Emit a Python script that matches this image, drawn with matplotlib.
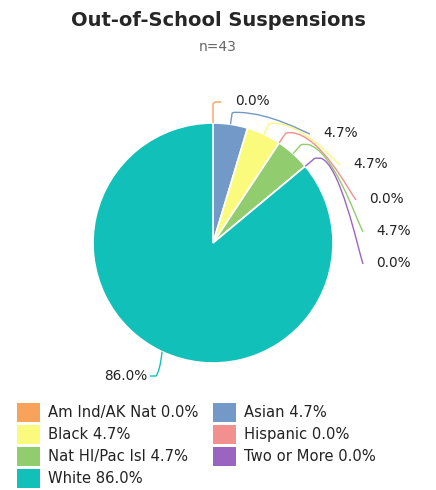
import numpy as np
import matplotlib
matplotlib.use("Agg")
import matplotlib.pyplot as plt
from matplotlib.path import Path
from matplotlib.patches import PathPatch, Rectangle

# ---- data ----
categories = ["Am Ind/AK Nat", "Asian", "Black", "Hispanic", "Nat HI/Pac Isl", "Two or More", "White"]
counts = [0, 2, 2, 0, 2, 0, 37]
pct_labels = ["0.0%", "4.7%", "4.7%", "0.0%", "4.7%", "0.0%", "86.0%"]
colors = ["#f7a35c", "#7399c8", "#fafa7c", "#f28f8f", "#91cc6f", "#9b64c0", "#12c0ba"]
title = "Out-of-School Suspensions"
subtitle = "n=43"

W, H = 436, 490
fig = plt.figure(figsize=(W / 100, H / 100), dpi=100)
ax = fig.add_axes([0, 0, 1, 1])
ax.axis("off")

def P(x, y):
    return (x, H - y)

cxp, cyp = 213, 243
cx, cy = P(cxp, cyp)
R = 120
wedges, _ = ax.pie(counts, colors=colors, startangle=90, counterclock=False,
                   radius=R, center=(cx, cy),
                   wedgeprops=dict(edgecolor="white", linewidth=1.2))
ax.set_xlim(0, W)
ax.set_ylim(0, H)
ax.set_aspect("auto")

fig.text(0.5, 1 - 20 / H, title, ha="center", va="center", fontsize=14,
         fontweight="bold", color="#262626")
fig.text(0.5, 1 - 47 / H, subtitle, ha="center", va="center", fontsize=10,
         color="#666666")

# label layout (pixel positions of text)
label_pos = [(235, 101), (323, 133), (353, 164), (369, 199), (376, 231), (376, 263), (147, 376)]
elbow_r = [140, 131, 131, 131, 131, 131, 124]
LFS = 9.8

def curve_path(pts_codes):
    verts = [P(x, y) for (x, y), _ in pts_codes]
    codes = [c for _, c in pts_codes]
    return Path(verts, codes)

for i, w in enumerate(wedges):
    ang = np.deg2rad((w.theta1 + w.theta2) / 2)
    ex, ey = cxp + R * np.cos(ang), cyp - R * np.sin(ang)
    bx, by = cxp + elbow_r[i] * np.cos(ang), cyp - elbow_r[i] * np.sin(ang)
    tx, ty = label_pos[i]
    if i == 6:
        endx, endy = tx + 3, ty
        pc = [((ex, ey), Path.MOVETO), ((endx + 10, endy - 5), Path.CURVE3),
              ((endx + 6, endy), Path.CURVE3), ((endx, endy), Path.LINETO)]
        ax.text(*P(tx, ty), pct_labels[i], ha="right", va="center", fontsize=LFS, color="#222222")
    elif i == 0:
        endx, endy = tx - 14, ty + 1
        pc = [((ex, ey), Path.MOVETO), ((ex, endy + 3), Path.LINETO),
              ((ex, endy), Path.CURVE3), ((ex + 3, endy), Path.CURVE3),
              ((endx, endy), Path.LINETO)]
        ax.text(*P(tx, ty), pct_labels[i], ha="left", va="center", fontsize=LFS, color="#222222")
    else:
        endx, endy = tx - 13, ty + 1
        cxx, cyy = bx + 7, by - 1
        dx, dy = endx - cxx, endy - cyy
        pc = [((ex, ey), Path.MOVETO), ((bx, by), Path.LINETO),
              ((bx + 1, by - 1.5), Path.CURVE3), ((cxx - 3, cyy), Path.CURVE3),
              ((cxx, cyy), Path.LINETO),
              ((cxx + 0.45 * dx, cyy + 0.05 * dy), Path.CURVE4),
              ((endx - 0.12 * dx, endy - 0.15 * dy), Path.CURVE4),
              ((endx, endy), Path.CURVE4)]
        ax.text(*P(tx, ty), pct_labels[i], ha="left", va="center", fontsize=LFS, color="#222222")
    ax.add_patch(PathPatch(curve_path(pc), fill=False, edgecolor=colors[i], lw=1.0))

# legend (row-major, 2 columns)
col_x = [17, 213]
row_y0, row_dy = 412, 22
for i, (cat, lab, c) in enumerate(zip(categories, pct_labels, colors)):
    r, cidx = divmod(i, 2)
    x0 = col_x[cidx]
    yc = row_y0 + r * row_dy
    sx, sy = P(x0, yc + 9.5)
    ax.add_patch(Rectangle((sx, sy), 23, 19, facecolor=c, edgecolor="none"))
    ax.text(*P(x0 + 31, yc), f"{cat} {lab}", ha="left", va="center", fontsize=10.6,
            color="#222222")

fig.savefig("out.png", dpi=100, facecolor="white")
